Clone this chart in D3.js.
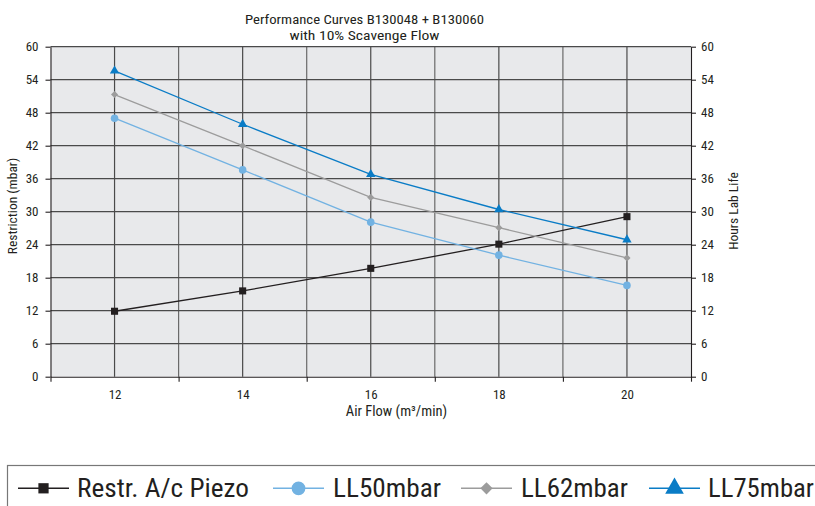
<!DOCTYPE html>
<html><head><meta charset="utf-8">
<script src="https://cdn.jsdelivr.net/npm/d3@7"></script>
<style>
body{margin:0;background:#fff;}
text{font-family:"Liberation Sans Narrow","Roboto Condensed","DejaVu Sans Condensed",sans-serif;fill:#231f20;}
</style></head>
<body><svg id="c" width="815" height="506"></svg>
<script>
const airFlow = [12, 14, 16, 18, 20];
const restrPiezo = [11.9, 15.6, 19.7, 24.1, 29.1];
const ll50 = [47.0, 37.6, 28.1, 22.1, 16.6];
const ll62 = [51.3, 42.0, 32.6, 27.1, 21.6];
const ll75 = [55.6, 45.9, 36.8, 30.4, 24.9];
const yTicks = [0, 6, 12, 18, 24, 30, 36, 42, 48, 54, 60];
const xLabelTicks = [12, 14, 16, 18, 20];
const seriesNames = ["Restr. A/c Piezo", "LL50mbar", "LL62mbar", "LL75mbar"];

const series = [
  {name: seriesNames[0], values: restrPiezo, color: "#231f20", sym: d3.symbolSquare, size: 50, lsize: 105, rot: 0, lx: 18, tx: 77, tw: 172},
  {name: seriesNames[1], values: ll50, color: "#72b2e2", sym: d3.symbolCircle, size: 45, lsize: 150, rot: 0, lx: 273, tx: 333, tw: 108},
  {name: seriesNames[2], values: ll62, color: "#9c9c9c", sym: d3.symbolSquare, size: 25, lsize: 75, rot: 45, lx: 461, tx: 521, tw: 107},
  {name: seriesNames[3], values: ll75, color: "#0a7cc6", sym: d3.symbolTriangle, size: 38, lsize: 150, rot: 0, lx: 649, tx: 708, tw: 106}
];

const svg = d3.select("#c");
const L = 50.5, R = 691, T = 46.7, B = 376.7;
const x = d3.scaleLinear().domain([11, 21]).range([L, R]);
const y = d3.scaleLinear().domain([0, 60]).range([B, T]);

svg.append("rect").attr("x", L).attr("y", T).attr("width", R - L).attr("height", B - T).attr("fill", "#e8e9eb");

// grid
const g = svg.append("g");
d3.range(12, 21).forEach(v => {
  g.append("line").attr("x1", x(v)).attr("x2", x(v)).attr("y1", T).attr("y2", B)
    .attr("stroke", v % 2 === 0 ? "#4a4a4a" : "#6a6a6a").attr("stroke-width", 1.2);
});
yTicks.slice(1, -1).forEach(v => {
  g.append("line").attr("x1", L).attr("x2", R).attr("y1", y(v)).attr("y2", y(v))
    .attr("stroke", "#4a4a4a").attr("stroke-width", 1.2);
});
g.append("line").attr("x1", L).attr("x2", R).attr("y1", T).attr("y2", T).attr("stroke", "#4a4a4a").attr("stroke-width", 1.2);

// axes
const yl = d3.axisLeft(y).tickValues(yTicks).tickSize(5).tickSizeOuter(0);
const yr = d3.axisRight(y).tickValues(yTicks).tickSize(5).tickSizeOuter(0);
const xa = d3.axisBottom(x).tickValues(d3.range(11, 22, 2)).tickSize(5).tickFormat("").tickSizeOuter(0);
const xl = d3.axisBottom(x).tickValues(xLabelTicks).tickSize(0).tickFormat(d3.format("d"));

function style(sel) {
  sel.selectAll("path,line").attr("stroke", "#231f20").attr("stroke-width", 1.1);
  sel.selectAll("text").attr("font-size", 13).style("fill", "#231f20");
}
svg.append("g").attr("transform", `translate(${L},0)`).call(yl).call(style)
  .selectAll("text").attr("x", -12);
svg.append("g").attr("transform", `translate(${R},0)`).call(yr).call(style)
  .selectAll("text").attr("x", 10);
svg.append("g").attr("transform", `translate(0,${B})`).call(xa).call(style);
svg.append("g").attr("transform", `translate(0,${B})`).call(xl).call(style)
  .call(s => s.select(".domain").remove())
  .selectAll("text").attr("y", 13);

// lines and markers
const line = d3.line().x((d, i) => x(airFlow[i])).y(d => y(d));
series.forEach(s => {
  svg.append("path").attr("d", line(s.values)).attr("fill", "none").attr("stroke", s.color).attr("stroke-width", 1.3);
  svg.selectAll(null).data(s.values).enter().append("path")
    .attr("d", d3.symbol().type(s.sym).size(s.size))
    .attr("transform", (d, i) => `translate(${x(airFlow[i])},${y(d)}) rotate(${s.rot})`)
    .attr("fill", s.color);
});

// titles
svg.append("text").attr("x", 364.5).attr("y", 23.5).attr("text-anchor", "middle").attr("font-size", 13.5)
  .attr("textLength", 239).attr("lengthAdjust", "spacingAndGlyphs").text("Performance Curves B130048 + B130060");
svg.append("text").attr("x", 364.5).attr("y", 39.5).attr("text-anchor", "middle").attr("font-size", 13.5)
  .attr("textLength", 150).attr("lengthAdjust", "spacingAndGlyphs").text("with 10% Scavenge Flow");
svg.append("text").attr("x", 396.5).attr("y", 416).attr("text-anchor", "middle").attr("font-size", 14.5).text("Air Flow (m³/min)");
svg.append("text").attr("transform", "translate(17,206) rotate(-90)").attr("text-anchor", "middle").attr("font-size", 13.5).text("Restriction (mbar)");
svg.append("text").attr("transform", "translate(738,211) rotate(-90)").attr("text-anchor", "middle").attr("font-size", 13.5).text("Hours Lab Life");

// legend
svg.append("rect").attr("x", 7.5).attr("y", 465.5).attr("width", 820).attr("height", 60).attr("fill", "none").attr("stroke", "#777").attr("stroke-width", 1.2);
series.forEach((s, i) => {
  const lx = s.lx;
  svg.append("line").attr("x1", lx).attr("x2", lx + 51).attr("y1", 488.3).attr("y2", 488.3).attr("stroke", s.color).attr("stroke-width", 1.6);
  svg.append("path").attr("d", d3.symbol().type(s.sym).size(s.lsize)).attr("transform", `translate(${lx + 25.5},488.3) rotate(${s.rot})`).attr("fill", s.color);
  svg.append("text").attr("x", s.tx).attr("y", 496.7).attr("font-size", 25)
    .attr("textLength", s.tw).attr("lengthAdjust", "spacingAndGlyphs").text(s.name);
});
</script></body></html>
